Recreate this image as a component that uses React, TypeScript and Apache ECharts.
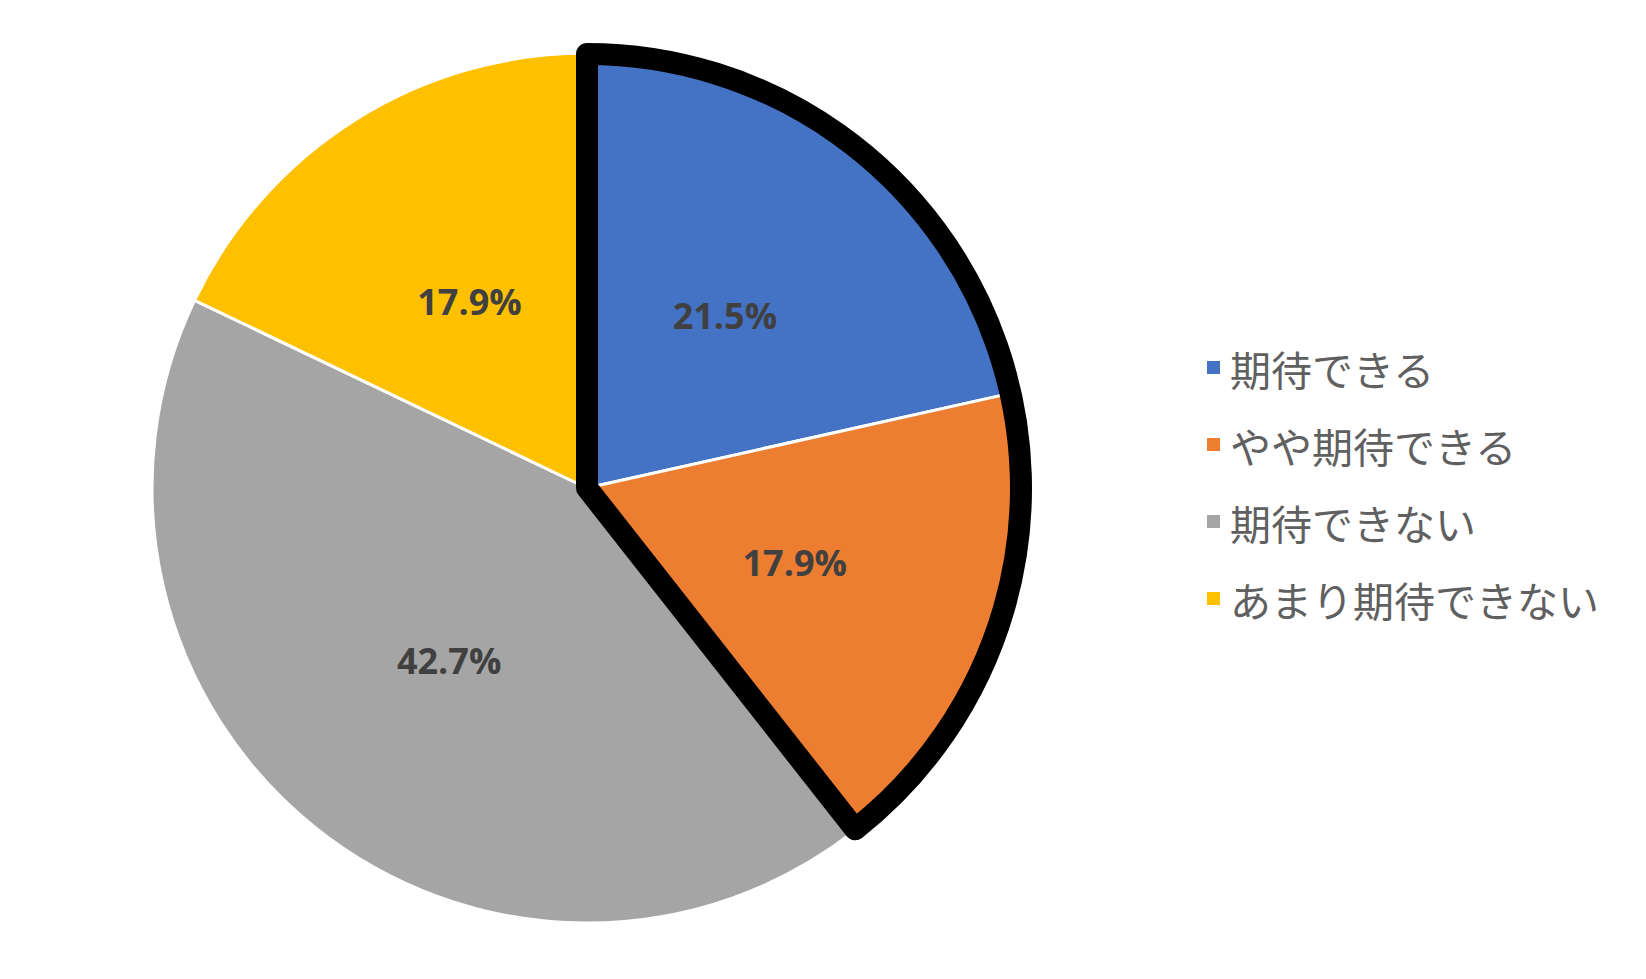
import React, { useEffect, useRef } from "react";
import * as echarts from "echarts";

const categories = ["期待できる", "やや期待できる", "期待できない", "あまり期待できない"];
const values = [21.5, 17.9, 42.7, 17.9];
const colors = ["#4472C4", "#ED7D31", "#A5A5A5", "#FFC000"];
// the outlined group: first two categories
const outlinedCount = 2;

export default function App() {
  const ref = useRef<HTMLDivElement>(null);
  useEffect(() => {
    document.body.style.margin = "0";
    const chart = echarts.init(ref.current!, null, { renderer: "svg" });
    const outlined = values.slice(0, outlinedCount).reduce((a, b) => a + b, 0);
    const rest = values.slice(outlinedCount).reduce((a, b) => a + b, 0);
    chart.setOption({
      animation: false,
      backgroundColor: "#ffffff",
      legend: {
        orient: "vertical",
        left: 1200,
        top: 342,
        data: categories,
        icon: "rect",
        itemWidth: 15,
        itemHeight: 15,
        itemGap: 36,
        textStyle: {
          fontFamily: "Noto Sans CJK JP",
          fontSize: 41,
          lineHeight: 41,
          color: "#606060",
          padding: [0, 0, 0, 4],
        },
      },
      series: [
        {
          type: "pie",
          center: [587, 488],
          radius: [0, 435],
          startAngle: 90,
          clockwise: true,
          data: categories.map((name, i) => ({
            name,
            value: values[i],
            itemStyle: { color: colors[i] },
          })),
          itemStyle: { borderColor: "#ffffff", borderWidth: 3 },
          label: {
            show: true,
            position: "inside",
            formatter: (p: any) => p.value.toFixed(1) + "%",
            fontFamily: "Open Sans",
            fontWeight: "bold",
            fontSize: 36,
            color: "#404040",
          },
          labelLine: { show: false },
          emphasis: { disabled: true },
        },
        {
          type: "pie",
          center: [587, 488],
          radius: [0, 434],
          startAngle: 90,
          clockwise: true,
          silent: true,
          z: 5,
          data: [
            {
              name: "outline",
              value: outlined,
              itemStyle: {
                color: "rgba(0,0,0,0)",
                borderColor: "#000000",
                borderWidth: 22,
                borderJoin: "round",
              },
            },
            {
              name: "rest",
              value: rest,
              itemStyle: { color: "rgba(0,0,0,0)", borderWidth: 0 },
            },
          ],
          label: { show: false },
          labelLine: { show: false },
          emphasis: { disabled: true },
        },
      ],
    });
    return () => chart.dispose();
  }, []);
  return <div ref={ref} style={{ width: 1646, height: 979 }} />;
}
